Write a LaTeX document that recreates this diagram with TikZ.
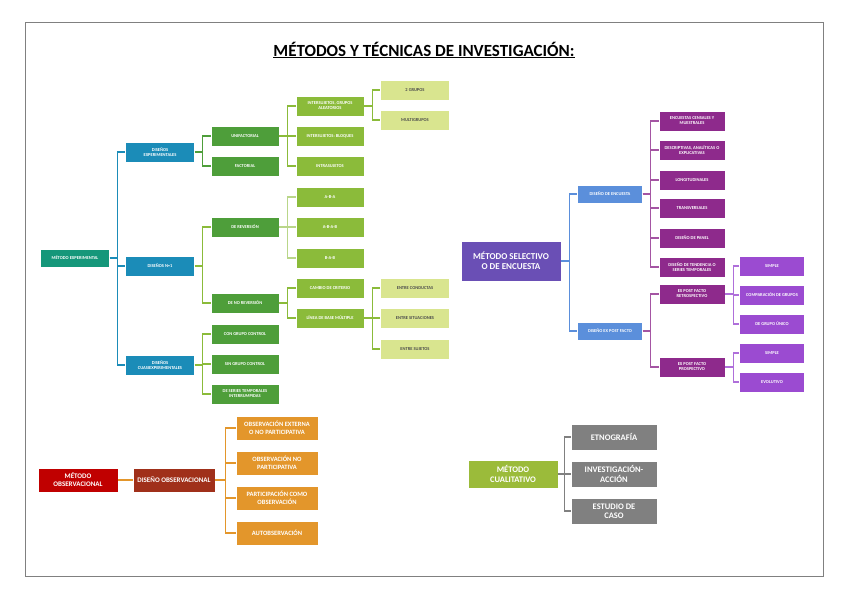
\documentclass[tikz,border=0pt]{standalone}
\usepackage{fontspec}
\setmainfont{Carlito}
\usetikzlibrary{calc}
\definecolor{cexp}{HTML}{15977A}
\definecolor{cblue}{HTML}{1B8CB8}
\definecolor{cg1}{HTML}{4E9E3A}
\definecolor{cg2}{HTML}{8BBB3A}
\definecolor{cg3}{HTML}{D9E58F}
\definecolor{csel}{HTML}{6A4FB5}
\definecolor{cbl2}{HTML}{5B8FDB}
\definecolor{cpur}{HTML}{8E2A8C}
\definecolor{cvio}{HTML}{9B4BD1}
\definecolor{cred}{HTML}{C00000}
\definecolor{cdred}{HTML}{A0301A}
\definecolor{corg}{HTML}{E3962B}
\definecolor{colv}{HTML}{9BBB3A}
\definecolor{cgray}{HTML}{808080}
\tikzset{
 bx/.style={draw=white,line width=0.6pt,text=white,align=center,inner sep=1pt,font=\bfseries\fontsize{4.5}{5}\selectfont},
 sexp/.style={bx,fill=cexp,minimum width=69pt,minimum height=18pt},
 sblue/.style={bx,fill=cblue,minimum width=69pt,minimum height=20pt},
 sg1/.style={bx,fill=cg1,minimum width=68pt,minimum height=20pt},
 sg2/.style={bx,fill=cg2,minimum width=68pt,minimum height=20pt},
 sg3/.style={bx,fill=cg3,text=black!70,minimum width=69pt,minimum height=20pt},
 ssel/.style={bx,fill=csel,minimum width=100pt,minimum height=40pt,font=\bfseries\fontsize{9}{10}\selectfont},
 sbl2/.style={bx,fill=cbl2,minimum width=65pt,minimum height=18pt},
 spur/.style={bx,fill=cpur,minimum width=66pt,minimum height=20pt},
 svio/.style={bx,fill=cvio,minimum width=65pt,minimum height=20pt},
 sred/.style={bx,fill=cred,minimum width=80pt,minimum height=24pt,font=\bfseries\fontsize{7}{8}\selectfont},
 sdred/.style={bx,fill=cdred,minimum width=82pt,minimum height=24pt,font=\bfseries\fontsize{7}{8}\selectfont},
 sorg/.style={bx,fill=corg,minimum width=82pt,minimum height=24pt,font=\bfseries\fontsize{6.5}{7.5}\selectfont},
 solv/.style={bx,fill=colv,minimum width=90pt,minimum height=28pt,font=\bfseries\fontsize{8.5}{9.5}\selectfont},
 sgray/.style={bx,fill=cgray,minimum width=86pt,minimum height=26pt,font=\bfseries\fontsize{8.5}{9.5}\selectfont},
 ln/.style={line width=1.1pt}
}
\newcommand\conn[4]{\draw[ln,#1] (#2.east) -- ++(#4,0) |- (#3.west);}
\begin{document}
\begin{tikzpicture}[x=1pt,y=-1pt]
\useasboundingbox (0,0) rectangle (848,599);
\fill[white] (0,0) rectangle (848,599);
\draw[gray,line width=0.8pt] (25,22) rectangle (823,576);
\node[font=\bfseries\fontsize{17}{20}\selectfont] (title) at (424,50) {\underline{MÉTODOS Y TÉCNICAS DE INVESTIGACIÓN:}};
% left tree
\node[sexp] (me) at (75,258) {MÉTODO EXPERIMENTAL};
\node[sblue] (de) at (160,152) {DISEÑOS\\EXPERIMENTALES};
\node[sblue] (dn) at (160,266) {DISEÑOS N=1};
\node[sblue] (dc) at (160,365) {DISEÑOS\\CUASIEXPERIMENTALES};
\node[sg1] (uf) at (245,136) {UNIFACTORIAL};
\node[sg1] (fa) at (245,166) {FACTORIAL};
\node[sg1] (dr) at (245,227) {DE REVERSIÓN};
\node[sg1] (dnr) at (245,303) {DE NO REVERSIÓN};
\node[sg1] (cgc) at (245,334) {CON GRUPO CONTROL};
\node[sg1] (sgc) at (245,364) {SIN GRUPO CONTROL};
\node[sg1] (dst) at (245,394) {DE SERIES TEMPORALES\\INTERRUMPIDAS};
\node[sg2] (iga) at (330,106) {INTERSUJETOS, GRUPOS\\ALEATORIOS};
\node[sg2] (ib) at (330,136) {INTERSUJETOS: BLOQUES};
\node[sg2] (in) at (330,166) {INTRASUJETOS};
\node[sg2] (aba) at (330,197) {A-B-A};
\node[sg2] (abab) at (330,227) {A-B-A-B};
\node[sg2] (bab) at (330,258) {B-A-B};
\node[sg2] (cc) at (330,288) {CAMBIO DE CRITERIO};
\node[sg2] (lbm) at (330,318) {LÍNEA DE BASE MÚLTIPLE};
\node[sg3] (g2) at (415,90) {2 GRUPOS};
\node[sg3] (mg) at (415,120) {MULTIGRUPOS};
\node[sg3] (ec) at (415,288) {ENTRE CONDUCTAS};
\node[sg3] (es) at (415,318) {ENTRE SITUACIONES};
\node[sg3] (esu) at (415,349) {ENTRE SUJETOS};
\foreach \c in {de,dn,dc}{\conn{cblue}{me}{\c}{8}}
\foreach \c in {uf,fa}{\conn{cg1}{de}{\c}{8}}
\foreach \c in {dr,dnr}{\conn{cg2}{dn}{\c}{8}}
\foreach \c in {cgc,sgc,dst}{\conn{cg2}{dc}{\c}{8}}
\foreach \c in {iga,ib,in}{\conn{cg2}{uf}{\c}{8}}
\foreach \c in {aba,abab,bab}{\conn{cg2!60}{dr}{\c}{8}}
\foreach \c in {cc,lbm}{\conn{cg2}{dnr}{\c}{8}}
\foreach \c in {g2,mg}{\conn{cg2}{iga}{\c}{8}}
\foreach \c in {ec,es,esu}{\conn{cg2}{lbm}{\c}{8}}
% right tree
\node[ssel] (ms) at (511,261) {MÉTODO SELECTIVO\\O DE ENCUESTA};
\node[sbl2] (den) at (610,194) {DISEÑO DE ENCUESTA};
\node[sbl2] (dex) at (610,331) {DISEÑO EX POST FACTO};
\node[spur] (p1) at (692,121) {ENCUESTAS CENSALES Y\\MUESTRALES};
\node[spur] (p2) at (692,150) {DESCRIPTIVAS, ANALÍTICAS O\\EXPLICATIVAS};
\node[spur] (p3) at (692,180) {LONGITUDINALES};
\node[spur] (p4) at (692,208) {TRANSVERSALES};
\node[spur] (p5) at (692,238) {DISEÑO DE PANEL};
\node[spur] (p6) at (692,267) {DISEÑO DE TENDENCIA O\\SERIES TEMPORALES};
\node[spur] (p7) at (692,294) {EX POST FACTO\\RETROSPECTIVO};
\node[spur] (p8) at (692,367) {EX POST FACTO\\PROSPECTIVO};
\node[svio] (v1) at (772,266) {SIMPLE};
\node[svio] (v2) at (772,295) {COMPARACIÓN DE GRUPOS};
\node[svio] (v3) at (772,324) {DE GRUPO ÚNICO};
\node[svio] (v4) at (772,353) {SIMPLE};
\node[svio] (v5) at (772,382) {EVOLUTIVO};
\foreach \c in {den,dex}{\conn{cbl2}{ms}{\c}{8}}
\foreach \c in {p1,p2,p3,p4,p5,p6}{\conn{cpur!80}{den}{\c}{8}}
\foreach \c in {p7,p8}{\conn{cpur!80}{dex}{\c}{8}}
\foreach \c in {v1,v2,v3}{\conn{cvio!80}{p7}{\c}{8}}
\foreach \c in {v4,v5}{\conn{cvio!80}{p8}{\c}{8}}
% observacional
\node[sred] (mo) at (78,480) {MÉTODO\\OBSERVACIONAL};
\node[sdred] (do) at (174,480) {DISEÑO OBSERVACIONAL};
\node[sorg] (o1) at (277,428) {OBSERVACIÓN EXTERNA\\O NO PARTICIPATIVA};
\node[sorg] (o2) at (277,463) {OBSERVACIÓN NO\\PARTICIPATIVA};
\node[sorg] (o3) at (277,498) {PARTICIPACIÓN COMO\\OBSERVACIÓN};
\node[sorg] (o4) at (277,533) {AUTOBSERVACIÓN};
\draw[ln,corg] (mo.east) -- (do.west);
\foreach \c in {o1,o2,o3,o4}{\conn{corg}{do}{\c}{10}}
% cualitativo
\node[solv] (mc) at (513,474) {MÉTODO\\CUALITATIVO};
\node[sgray] (q1) at (614,437) {ETNOGRAFÍA};
\node[sgray] (q2) at (614,474) {INVESTIGACIÓN-\\ACCIÓN};
\node[sgray] (q3) at (614,511) {ESTUDIO DE\\CASO};
\foreach \c in {q1,q2,q3}{\conn{cgray}{mc}{\c}{6}}
\end{tikzpicture}
\end{document}
